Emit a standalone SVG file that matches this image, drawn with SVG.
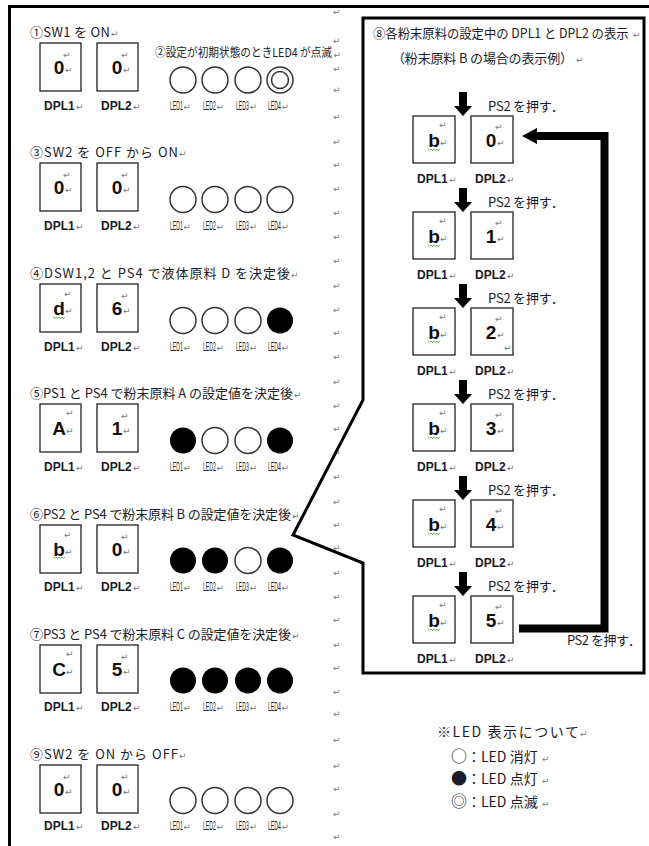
<svg xmlns="http://www.w3.org/2000/svg" width="649" height="846" viewBox="0 0 649 846">
<defs>
<style>
.t{font-family:"Noto Sans CJK JP","DejaVu Sans",sans-serif;font-size:13px;fill:#1c1c28}
.lg{font-family:"Noto Sans CJK JP","DejaVu Sans",sans-serif;font-size:14px;fill:#1c1c28}
.sym{font-size:16px}
.n{font-family:"Noto Sans CJK JP","DejaVu Sans",sans-serif;font-size:12px;fill:#1c1c28}
.rm{font-family:"DejaVu Sans",sans-serif;font-size:9px;fill:#7a7a7a}
.lbl{font-family:"Liberation Sans",Arial,sans-serif;font-weight:bold;font-size:12px;fill:#1a1a22}
.ll{font-family:"Liberation Sans",Arial,sans-serif;font-size:12px;fill:#1a1a22}
.ch{font-family:"Liberation Sans",Arial,sans-serif;font-weight:bold;font-size:19px;fill:#111;text-anchor:middle}
.box{fill:#fff;stroke:#222;stroke-width:1.3}
.off{fill:#fff;stroke:#333;stroke-width:1.5}
.on{fill:#000}
.sq{fill:none;stroke:#3a3;stroke-width:0.8}
</style>
<path id="dn" d="M-4,-24 H4 V-10 H9 L0,0 L-9,-10 H-4 Z" fill="#000"/>
<path id="wv" d="M0,0 l1.5,1.5 l1.5,-1.5 l1.5,1.5 l1.5,-1.5 l1.5,1.5 l1.5,-1.5 l1.5,1.5 l1.5,-1.5" class="sq"/>
</defs>
<rect width="649" height="846" fill="#fff"/>
<path d="M9.5 850 V6.5 H655" fill="none" stroke="#000" stroke-width="3"/>

<g id="marks">
<text class="rm" x="333" y="15">↵</text><text class="rm" x="333" y="44">↵</text><text class="rm" x="333" y="72">↵</text><text class="rm" x="333" y="93">↵</text><text class="rm" x="333" y="120">↵</text><text class="rm" x="333" y="145">↵</text><text class="rm" x="333" y="168">↵</text><text class="rm" x="333" y="192">↵</text><text class="rm" x="333" y="216">↵</text><text class="rm" x="333" y="240">↵</text><text class="rm" x="333" y="264">↵</text><text class="rm" x="333" y="289">↵</text><text class="rm" x="333" y="313">↵</text><text class="rm" x="333" y="336">↵</text><text class="rm" x="333" y="360">↵</text><text class="rm" x="333" y="385">↵</text><text class="rm" x="333" y="409">↵</text><text class="rm" x="333" y="432">↵</text><text class="rm" x="333" y="456">↵</text><text class="rm" x="333" y="480">↵</text><text class="rm" x="333" y="505">↵</text><text class="rm" x="333" y="528">↵</text><text class="rm" x="333" y="551">↵</text><text class="rm" x="333" y="576">↵</text><text class="rm" x="333" y="600">↵</text><text class="rm" x="333" y="623">↵</text><text class="rm" x="333" y="648">↵</text><text class="rm" x="333" y="671">↵</text><text class="rm" x="333" y="695">↵</text><text class="rm" x="333" y="717">↵</text><text class="rm" x="333" y="743">↵</text><text class="rm" x="333" y="769">↵</text><text class="rm" x="333" y="792">↵</text><text class="rm" x="333" y="817">↵</text><text class="rm" x="333" y="840">↵</text>
</g>

<!-- Step 1 -->
<g id="step1">
<text class="t" x="30" y="37" textLength="80">①SW1 を ON</text><text class="rm" x="111" y="37">↵</text>
<rect class="box" x="40" y="43" width="41" height="48"/><rect class="box" x="97" y="43" width="41" height="48"/>
<text class="ch" x="59" y="74">0</text><text class="rm" x="65" y="73">↵</text><text class="rm" x="63" y="58">↵</text>
<text class="ch" x="117" y="74">0</text><text class="rm" x="123" y="73">↵</text><text class="rm" x="121" y="58">↵</text>
<text class="lbl" x="44" y="110">DPL1</text><text class="rm" x="76" y="110">↵</text>
<text class="lbl" x="101" y="110">DPL2</text><text class="rm" x="133" y="110">↵</text>
<text class="n" transform="translate(155 57) scale(0.89 1)">②設定が初期状態のときLED4 が点滅</text><text class="rm" x="333.5" y="58">↵</text>
<circle class="off" cx="183" cy="80" r="13"/><circle class="off" cx="215" cy="80" r="13"/><circle class="off" cx="248" cy="80" r="13"/><circle class="off" cx="280" cy="80" r="13"/><circle class="off" cx="280" cy="80" r="8.5"/>
<text class="ll" transform="translate(170 110) scale(0.43 1)">LED1</text><text class="rm" x="183.5" y="110">↵</text>
<text class="ll" transform="translate(203 110) scale(0.43 1)">LED2</text><text class="rm" x="216.5" y="110">↵</text>
<text class="ll" transform="translate(236 110) scale(0.43 1)">LED3</text><text class="rm" x="249.5" y="110">↵</text>
<text class="ll" transform="translate(268 110) scale(0.43 1)">LED4</text><text class="rm" x="281.5" y="110">↵</text>
</g>

<!-- Step 3 -->
<g id="step3">
<text class="t" x="30" y="157" textLength="148">③SW2 を OFF から ON</text><text class="rm" x="179" y="157">↵</text>
<rect class="box" x="40" y="163" width="41" height="48"/><rect class="box" x="97" y="163" width="41" height="48"/>
<text class="ch" x="59" y="194">0</text><text class="rm" x="65" y="193">↵</text><text class="rm" x="63" y="178">↵</text>
<text class="ch" x="117" y="194">0</text><text class="rm" x="123" y="193">↵</text><text class="rm" x="121" y="178">↵</text>
<text class="lbl" x="44" y="230">DPL1</text><text class="rm" x="76" y="230">↵</text>
<text class="lbl" x="101" y="230">DPL2</text><text class="rm" x="133" y="230">↵</text>
<circle class="off" cx="183" cy="199.5" r="13"/><circle class="off" cx="215" cy="199.5" r="13"/><circle class="off" cx="248" cy="199.5" r="13"/><circle class="off" cx="280" cy="199.5" r="13"/>
<text class="ll" transform="translate(170 230) scale(0.43 1)">LED1</text><text class="rm" x="183.5" y="230">↵</text>
<text class="ll" transform="translate(203 230) scale(0.43 1)">LED2</text><text class="rm" x="216.5" y="230">↵</text>
<text class="ll" transform="translate(236 230) scale(0.43 1)">LED3</text><text class="rm" x="249.5" y="230">↵</text>
<text class="ll" transform="translate(268 230) scale(0.43 1)">LED4</text><text class="rm" x="281.5" y="230">↵</text>
</g>

<!-- Step 4 -->
<g id="step4">
<text class="t" x="30" y="278" textLength="260">④DSW1,2 と PS4 で液体原料 D を決定後</text><text class="rm" x="291" y="278">↵</text>
<rect class="box" x="40" y="284" width="41" height="48"/><rect class="box" x="97" y="284" width="41" height="48"/>
<text class="ch" x="59" y="315">d</text><text class="rm" x="65" y="314">↵</text><text class="rm" x="64" y="297">↵</text>
<use href="#wv" x="53" y="317"/>
<text class="ch" x="117" y="315">6</text><text class="rm" x="123" y="314">↵</text><text class="rm" x="121" y="299">↵</text>
<text class="lbl" x="44" y="351">DPL1</text><text class="rm" x="76" y="351">↵</text>
<text class="lbl" x="101" y="351">DPL2</text><text class="rm" x="133" y="351">↵</text>
<circle class="off" cx="183" cy="320.5" r="13"/><circle class="off" cx="215" cy="320.5" r="13"/><circle class="off" cx="248" cy="320.5" r="13"/><circle class="on" cx="280" cy="320.5" r="13"/>
<text class="ll" transform="translate(170 351) scale(0.43 1)">LED1</text><text class="rm" x="183.5" y="351">↵</text>
<text class="ll" transform="translate(203 351) scale(0.43 1)">LED2</text><text class="rm" x="216.5" y="351">↵</text>
<text class="ll" transform="translate(236 351) scale(0.43 1)">LED3</text><text class="rm" x="249.5" y="351">↵</text>
<text class="ll" transform="translate(268 351) scale(0.43 1)">LED4</text><text class="rm" x="281.5" y="351">↵</text>
</g>

<!-- Step 5 -->
<g id="step5">
<text class="t" x="30" y="398" textLength="263">⑤PS1 と PS4 で粉末原料 A の設定値を決定後</text><text class="rm" x="294" y="398">↵</text>
<rect class="box" x="40" y="404" width="41" height="48"/><rect class="box" x="97" y="404" width="41" height="48"/>
<text class="ch" x="59" y="435">A</text><text class="rm" x="66" y="434">↵</text><text class="rm" x="66" y="416">↵</text>
<text class="ch" x="117" y="435">1</text><text class="rm" x="123" y="434">↵</text><text class="rm" x="121" y="419">↵</text>
<text class="lbl" x="44" y="471">DPL1</text><text class="rm" x="76" y="471">↵</text>
<text class="lbl" x="101" y="471">DPL2</text><text class="rm" x="133" y="471">↵</text>
<circle class="on" cx="183" cy="440.5" r="13"/><circle class="off" cx="215" cy="440.5" r="13"/><circle class="off" cx="248" cy="440.5" r="13"/><circle class="on" cx="280" cy="440.5" r="13"/>
<text class="ll" transform="translate(170 471) scale(0.43 1)">LED1</text><text class="rm" x="183.5" y="471">↵</text>
<text class="ll" transform="translate(203 471) scale(0.43 1)">LED2</text><text class="rm" x="216.5" y="471">↵</text>
<text class="ll" transform="translate(236 471) scale(0.43 1)">LED3</text><text class="rm" x="249.5" y="471">↵</text>
<text class="ll" transform="translate(268 471) scale(0.43 1)">LED4</text><text class="rm" x="281.5" y="471">↵</text>
</g>

<!-- Step 6 -->
<g id="step6">
<text class="t" x="30" y="519" textLength="261">⑥PS2 と PS4 で粉末原料 B の設定値を決定後</text><text class="rm" x="292" y="519">↵</text>
<rect class="box" x="40" y="525" width="41" height="48"/><rect class="box" x="97" y="525" width="41" height="48"/>
<text class="ch" x="59" y="556">b</text><text class="rm" x="65" y="555">↵</text><text class="rm" x="64" y="538">↵</text>
<use href="#wv" x="53" y="557"/>
<text class="ch" x="117" y="556">0</text><text class="rm" x="123" y="555">↵</text><text class="rm" x="121" y="540">↵</text>
<text class="lbl" x="44" y="591">DPL1</text><text class="rm" x="76" y="591">↵</text>
<text class="lbl" x="101" y="591">DPL2</text><text class="rm" x="133" y="591">↵</text>
<circle class="on" cx="183" cy="560.5" r="13"/><circle class="on" cx="215" cy="560.5" r="13"/><circle class="off" cx="248" cy="560.5" r="13"/><circle class="on" cx="280" cy="560.5" r="13"/>
<text class="ll" transform="translate(170 591) scale(0.43 1)">LED1</text><text class="rm" x="183.5" y="591">↵</text>
<text class="ll" transform="translate(203 591) scale(0.43 1)">LED2</text><text class="rm" x="216.5" y="591">↵</text>
<text class="ll" transform="translate(236 591) scale(0.43 1)">LED3</text><text class="rm" x="249.5" y="591">↵</text>
<text class="ll" transform="translate(268 591) scale(0.43 1)">LED4</text><text class="rm" x="281.5" y="591">↵</text>
</g>

<!-- Step 7 -->
<g id="step7">
<text class="t" x="30" y="639" textLength="261">⑦PS3 と PS4 で粉末原料 C の設定値を決定後</text><text class="rm" x="292" y="639">↵</text>
<rect class="box" x="40" y="645" width="41" height="48"/><rect class="box" x="97" y="645" width="41" height="48"/>
<text class="ch" x="59" y="676">C</text><text class="rm" x="66" y="675">↵</text><text class="rm" x="66" y="657">↵</text>
<text class="ch" x="117" y="676">5</text><text class="rm" x="123" y="675">↵</text><text class="rm" x="121" y="660">↵</text>
<text class="lbl" x="44" y="711">DPL1</text><text class="rm" x="76" y="711">↵</text>
<text class="lbl" x="101" y="711">DPL2</text><text class="rm" x="133" y="711">↵</text>
<circle class="on" cx="183" cy="680.5" r="13"/><circle class="on" cx="215" cy="680.5" r="13"/><circle class="on" cx="248" cy="680.5" r="13"/><circle class="on" cx="280" cy="680.5" r="13"/>
<text class="ll" transform="translate(170 711) scale(0.43 1)">LED1</text><text class="rm" x="183.5" y="711">↵</text>
<text class="ll" transform="translate(203 711) scale(0.43 1)">LED2</text><text class="rm" x="216.5" y="711">↵</text>
<text class="ll" transform="translate(236 711) scale(0.43 1)">LED3</text><text class="rm" x="249.5" y="711">↵</text>
<text class="ll" transform="translate(268 711) scale(0.43 1)">LED4</text><text class="rm" x="281.5" y="711">↵</text>
</g>

<!-- Step 9 -->
<g id="step9">
<text class="t" x="30" y="759" textLength="148">⑨SW2 を ON から OFF</text><text class="rm" x="179" y="759">↵</text>
<rect class="box" x="40" y="765" width="41" height="48"/><rect class="box" x="97" y="765" width="41" height="48"/>
<text class="ch" x="59" y="796">0</text><text class="rm" x="65" y="795">↵</text><text class="rm" x="63" y="780">↵</text>
<text class="ch" x="117" y="796">0</text><text class="rm" x="123" y="795">↵</text><text class="rm" x="121" y="780">↵</text>
<text class="lbl" x="44" y="830">DPL1</text><text class="rm" x="76" y="830">↵</text>
<text class="lbl" x="101" y="830">DPL2</text><text class="rm" x="133" y="830">↵</text>
<circle class="off" cx="183" cy="800.5" r="13"/><circle class="off" cx="215" cy="800.5" r="13"/><circle class="off" cx="248" cy="800.5" r="13"/><circle class="off" cx="280" cy="800.5" r="13"/>
<text class="ll" transform="translate(170 830) scale(0.43 1)">LED1</text><text class="rm" x="183.5" y="830">↵</text>
<text class="ll" transform="translate(203 830) scale(0.43 1)">LED2</text><text class="rm" x="216.5" y="830">↵</text>
<text class="ll" transform="translate(236 830) scale(0.43 1)">LED3</text><text class="rm" x="249.5" y="830">↵</text>
<text class="ll" transform="translate(268 830) scale(0.43 1)">LED4</text><text class="rm" x="281.5" y="830">↵</text>
</g>

<!-- Callout panel -->
<g id="panel">
<path d="M363 18 H644 V673 H363 V563 L293 535 L363 400 Z" fill="none" stroke="#000" stroke-width="3" stroke-linejoin="miter"/>
<text class="t" transform="translate(373 38) scale(0.95 1)">⑧各粉末原料の設定中の DPL1 と DPL2 の表示</text><text class="rm" x="633" y="38">↵</text>
<text class="t" x="392" y="63" textLength="181">（粉末原料 B の場合の表示例）</text><text class="rm" x="576" y="63">↵</text>
</g>

<g id="panel-rows">
<g id="row0">
<rect class="box" x="413" y="116" width="42" height="47"/><rect class="box" x="471" y="116" width="42" height="47"/>
<text class="ch" x="434" y="147">b</text><text class="rm" x="440" y="146">↵</text><text class="rm" x="439" y="128">↵</text><use href="#wv" x="428" y="149"/>
<text class="ch" x="491" y="147">0</text><text class="rm" x="497" y="146">↵</text><text class="rm" x="495" y="130">↵</text>
<text class="lbl" x="417" y="183">DPL1</text><text class="rm" x="449" y="183">↵</text>
<text class="lbl" x="475" y="183">DPL2</text><text class="rm" x="507" y="183">↵</text>
</g>
<g id="row1">
<rect class="box" x="413" y="212" width="42" height="47"/><rect class="box" x="471" y="212" width="42" height="47"/>
<text class="ch" x="434" y="243">b</text><text class="rm" x="440" y="242">↵</text><text class="rm" x="439" y="224">↵</text><use href="#wv" x="428" y="245"/>
<text class="ch" x="491" y="243">1</text><text class="rm" x="497" y="242">↵</text><text class="rm" x="495" y="226">↵</text>
<text class="lbl" x="417" y="279">DPL1</text><text class="rm" x="449" y="279">↵</text>
<text class="lbl" x="475" y="279">DPL2</text><text class="rm" x="507" y="279">↵</text>
</g>
<g id="row2">
<rect class="box" x="413" y="308" width="42" height="47"/><rect class="box" x="471" y="308" width="42" height="47"/>
<text class="ch" x="434" y="339">b</text><text class="rm" x="440" y="338">↵</text><text class="rm" x="439" y="320">↵</text><use href="#wv" x="428" y="341"/>
<text class="ch" x="491" y="339">2</text><text class="rm" x="497" y="338">↵</text><text class="rm" x="495" y="322">↵</text><text class="rm" x="504" y="351">↵</text>
<text class="lbl" x="417" y="375">DPL1</text><text class="rm" x="449" y="375">↵</text>
<text class="lbl" x="475" y="375">DPL2</text><text class="rm" x="507" y="375">↵</text>
</g>
<g id="row3">
<rect class="box" x="413" y="404" width="42" height="47"/><rect class="box" x="471" y="404" width="42" height="47"/>
<text class="ch" x="434" y="435">b</text><text class="rm" x="440" y="434">↵</text><text class="rm" x="439" y="416">↵</text><use href="#wv" x="428" y="437"/>
<text class="ch" x="491" y="435">3</text><text class="rm" x="497" y="434">↵</text><text class="rm" x="495" y="418">↵</text>
<text class="lbl" x="417" y="471">DPL1</text><text class="rm" x="449" y="471">↵</text>
<text class="lbl" x="475" y="471">DPL2</text><text class="rm" x="507" y="471">↵</text>
</g>
<g id="row4">
<rect class="box" x="413" y="500" width="42" height="47"/><rect class="box" x="471" y="500" width="42" height="47"/>
<text class="ch" x="434" y="531">b</text><text class="rm" x="440" y="530">↵</text><text class="rm" x="439" y="512">↵</text><use href="#wv" x="428" y="533"/>
<text class="ch" x="491" y="531">4</text><text class="rm" x="497" y="530">↵</text><text class="rm" x="495" y="514">↵</text>
<text class="lbl" x="417" y="567">DPL1</text><text class="rm" x="449" y="567">↵</text>
<text class="lbl" x="475" y="567">DPL2</text><text class="rm" x="507" y="567">↵</text>
</g>
<g id="row5">
<rect class="box" x="413" y="596" width="42" height="47"/><rect class="box" x="471" y="596" width="42" height="47"/>
<text class="ch" x="434" y="627">b</text><text class="rm" x="440" y="626">↵</text><text class="rm" x="439" y="608">↵</text><use href="#wv" x="428" y="629"/>
<text class="ch" x="491" y="627">5</text><text class="rm" x="497" y="626">↵</text><text class="rm" x="495" y="610">↵</text>
<text class="lbl" x="417" y="663">DPL1</text><text class="rm" x="449" y="663">↵</text>
<text class="lbl" x="475" y="663">DPL2</text><text class="rm" x="507" y="663">↵</text>
</g>
</g>

<g id="connectors">
<use href="#dn" x="463" y="116"/>
<use href="#dn" x="463" y="212"/>
<use href="#dn" x="463" y="308"/>
<use href="#dn" x="463" y="404"/>
<use href="#dn" x="463" y="500"/>
<use href="#dn" x="463" y="596"/>
<path d="M519 628.5 H604.5 V136 H534" fill="none" stroke="#000" stroke-width="8" stroke-linejoin="miter"/>
<path d="M522 136 L537 128 L537 144 Z" fill="#000"/>
</g>

<g id="labels">
<text class="t" x="488" y="111" textLength="76">PS2 を押す．</text>
<text class="t" x="488" y="207" textLength="76">PS2 を押す．</text>
<text class="t" x="488" y="303" textLength="76">PS2 を押す．</text>
<text class="t" x="488" y="399" textLength="76">PS2 を押す．</text>
<text class="t" x="488" y="495" textLength="76">PS2 を押す．</text>
<text class="t" x="488" y="591" textLength="76">PS2 を押す．</text>
<text class="t" x="567" y="645" textLength="74">PS2 を押す．</text>
</g>

<g id="legend">
<text class="lg" x="437" y="737" textLength="142">※LED 表示について</text><text class="rm" x="580" y="737">↵</text>
<text class="lg" x="451" y="762"><tspan class="sym">○</tspan>：LED 消灯</text><text class="rm" x="542" y="762">↵</text>
<text class="lg" x="451" y="784"><tspan class="sym">●</tspan>：LED 点灯</text><text class="rm" x="542" y="784">↵</text>
<text class="lg" x="451" y="807"><tspan class="sym">◎</tspan>：LED 点滅</text><text class="rm" x="542" y="807">↵</text>
</g>
</svg>
